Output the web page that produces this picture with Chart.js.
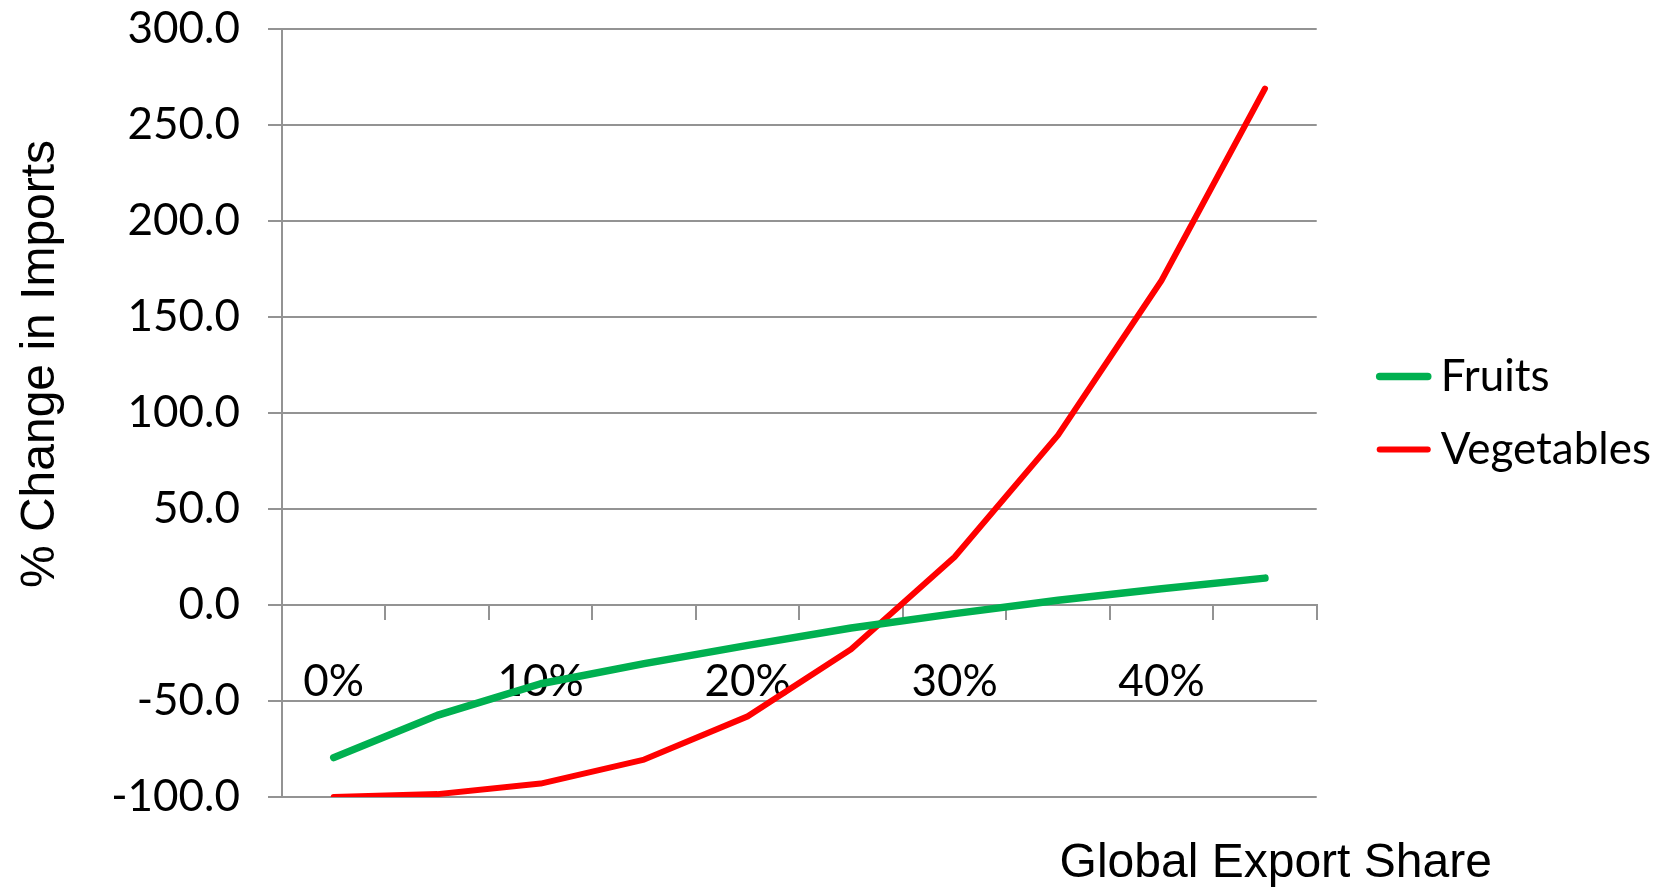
<!DOCTYPE html>
<html>
<head>
<meta charset="utf-8">
<title>% Change in Imports by Global Export Share</title>
<script src="https://cdn.jsdelivr.net/npm/chart.js@4.4.1/dist/chart.umd.min.js"></script>
<style>
  html, body { margin: 0; padding: 0; background: #ffffff; }
  #wrap { width: 1670px; height: 888px; position: relative; }
</style>
</head>
<body>
<div id="wrap"><canvas id="chart"></canvas></div>
<script>
// Categories: global export share, one every 5 points
const shares = ['0%', '5%', '10%', '15%', '20%', '25%', '30%', '35%', '40%', '45%'];
// Every other category gets a printed label
const labelEvery = 2;

// % change in imports
const fruits     = [-79.5, -57.5, -41, -30.5, -21, -12, -4.5, 2.5, 8.5, 14];
const vegetables = [-100, -98.5, -93, -80.5, -58, -23, 25, 88.5, 169, 269];

// Value axis range
const yMin = -100;
const yMax = 300;
const yStep = 50;

const xTitle = 'Global Export Share';
const yTitle = '% Change in Imports';

const GRID = '#939393';
const TICK_FONT = { family: 'Lato, "Open Sans", sans-serif', size: 44 };
const TITLE_FONT = '48px "Liberation Sans", Arial, sans-serif';

// Free-standing axis titles (placed like the spreadsheet layout)
const axisTitles = {
  id: 'axisTitles',
  afterDraw(chart) {
    const { ctx, chartArea } = chart;
    ctx.save();
    ctx.fillStyle = '#000000';
    ctx.font = TITLE_FONT;
    ctx.textAlign = 'center';
    ctx.textBaseline = 'alphabetic';
    ctx.fillText(xTitle, chartArea.right - 41, 877);
    ctx.translate(54, 364);
    ctx.rotate(-Math.PI / 2);
    ctx.fillText(yTitle, 0, 0);
    ctx.restore();
  }
};

// Leave a gap between the plot and the legend column
const legendGap = {
  id: 'legendGap',
  afterLayout(chart) {
    const lg = chart.legend;
    if (!lg) return;
    const dx = chart.chartArea.right + 43 - lg.left;
    lg.left += dx;
    lg.right += dx;
  }
};

new Chart(document.getElementById('chart'), {
  type: 'line',
  data: {
    labels: shares,
    datasets: [
      {
        label: 'Fruits',
        data: fruits,
        borderColor: '#00B050',
        backgroundColor: '#00B050',
        borderWidth: 7.5,
        borderCapStyle: 'round',
        borderJoinStyle: 'round',
        pointRadius: 0,
        pointHoverRadius: 0,
        pointStyle: 'line',
        tension: 0
      },
      {
        label: 'Vegetables',
        data: vegetables,
        borderColor: '#FF0000',
        backgroundColor: '#FF0000',
        borderWidth: 6,
        borderCapStyle: 'round',
        borderJoinStyle: 'round',
        pointRadius: 0,
        pointHoverRadius: 0,
        pointStyle: 'line',
        tension: 0
      }
    ]
  },
  options: {
    responsive: true,
    maintainAspectRatio: false,
    animation: false,
    events: [],
    layout: { autoPadding: false, padding: { top: 29, bottom: 91, left: 0, right: 52 } },
    scales: {
      x: {
        type: 'category',
        position: { y: 0 },
        offset: true,
        grid: {
          offset: true,
          drawOnChartArea: false,
          drawTicks: true,
          tickLength: 14,
          color: GRID,
          lineWidth: 2
        },
        border: { display: true, color: GRID, width: 2 },
        ticks: {
          autoSkip: false,
          maxRotation: 0,
          minRotation: 0,
          padding: 36,
          color: '#000000',
          font: TICK_FONT,
          callback: (v, i) => (i % labelEvery === 0 ? shares[i] : '')
        }
      },
      y: {
        min: yMin,
        max: yMax,
        afterFit: (scale) => {
          scale.width = 282;
          // the top/bottom labels may overhang the plot edge
          scale.paddingTop = 0;
          scale.paddingBottom = 0;
        },
        grid: { color: GRID, lineWidth: 2, tickLength: 14 },
        border: { display: true, color: GRID, width: 2 },
        ticks: {
          stepSize: yStep,
          padding: 28,
          color: '#000000',
          font: TICK_FONT,
          callback: (v) => Number(v).toFixed(1)
        }
      }
    },
    plugins: {
      tooltip: { enabled: false },
      legend: {
        position: 'right',
        align: 'center',
        fullSize: false,
        labels: {
          usePointStyle: true,
          pointStyle: 'line',
          boxWidth: 30,
          boxHeight: 34,
          padding: 29,
          color: '#000000',
          font: { family: 'Lato, "Open Sans", sans-serif', size: 44 },
          generateLabels(chart) {
            const items = Chart.defaults.plugins.legend.labels.generateLabels(chart);
            items.forEach((it) => {
              const ds = chart.data.datasets[it.datasetIndex];
              it.lineWidth = ds.borderWidth;
              it.strokeStyle = ds.borderColor;
              it.lineCap = 'round';
            });
            return items;
          }
        }
      }
    }
  },
  plugins: [axisTitles, legendGap]
});
</script>
</body>
</html>
